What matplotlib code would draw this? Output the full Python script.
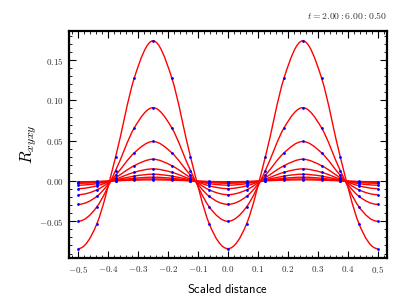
import numpy as np
import matplotlib
matplotlib.use("Agg")
import matplotlib.pyplot as plt
from matplotlib.path import Path
from matplotlib.patches import PathPatch
from matplotlib.ticker import MultipleLocator, FuncFormatter

plt.rcParams["mathtext.fontset"] = "cm"

# grid points (scaled distance) and the sampled R_xyxy values, one row per time
distance = [-0.5, -0.4375, -0.375, -0.3125, -0.25, -0.1875, -0.125, -0.0625, 0.0,
            0.0625, 0.125, 0.1875, 0.25, 0.3125, 0.375, 0.4375, 0.5]
times = [2.0, 2.5, 3.0, 3.5, 4.0, 4.5, 5.0, 5.5, 6.0]
r_xyxy = [
    [-0.084, -0.053, 0.030, 0.128, 0.174, 0.128, 0.030, -0.053, -0.084,
     -0.053, 0.030, 0.128, 0.174, 0.128, 0.030, -0.053, -0.084],
    [-0.050, -0.032, 0.013, 0.066, 0.091, 0.066, 0.013, -0.032, -0.050,
     -0.032, 0.013, 0.066, 0.091, 0.066, 0.013, -0.032, -0.050],
    [-0.029, -0.019, 0.007, 0.035, 0.049, 0.035, 0.007, -0.019, -0.029,
     -0.019, 0.007, 0.035, 0.049, 0.035, 0.007, -0.019, -0.029],
    [-0.017, -0.011, 0.004, 0.019, 0.027, 0.019, 0.004, -0.011, -0.017,
     -0.011, 0.004, 0.019, 0.027, 0.019, 0.004, -0.011, -0.017],
    [-0.0095, -0.0060, 0.0022, 0.0108, 0.0150, 0.0108, 0.0022, -0.0060, -0.0095,
     -0.0060, 0.0022, 0.0108, 0.0150, 0.0108, 0.0022, -0.0060, -0.0095],
    [-0.0052, -0.0033, 0.0012, 0.0061, 0.0084, 0.0061, 0.0012, -0.0033, -0.0052,
     -0.0033, 0.0012, 0.0061, 0.0084, 0.0061, 0.0012, -0.0033, -0.0052],
    [-0.0029, -0.0018, 0.0007, 0.0034, 0.0047, 0.0034, 0.0007, -0.0018, -0.0029,
     -0.0018, 0.0007, 0.0034, 0.0047, 0.0034, 0.0007, -0.0018, -0.0029],
    [-0.0016, -0.0010, 0.0004, 0.0019, 0.0026, 0.0019, 0.0004, -0.0010, -0.0016,
     -0.0010, 0.0004, 0.0019, 0.0026, 0.0019, 0.0004, -0.0010, -0.0016],
    [-0.0009, -0.0006, 0.0002, 0.0010, 0.0014, 0.0010, 0.0002, -0.0006, -0.0009,
     -0.0006, 0.0002, 0.0010, 0.0014, 0.0010, 0.0002, -0.0006, -0.0009],
]


def smooth_path(xs, ys):
    # Catmull-Rom through the samples, drawn as cubic Bezier segments
    xs = np.asarray(xs, float)
    ys = np.asarray(ys, float)
    ext = np.concatenate([[ys[1]], ys, [ys[-2]]])  # mirrored ends -> flat slope
    m = (ext[2:] - ext[:-2]) / 2.0
    verts = [(xs[0], ys[0])]
    codes = [Path.MOVETO]
    for i in range(len(xs) - 1):
        h = xs[i + 1] - xs[i]
        verts += [(xs[i] + h / 3, ys[i] + m[i] / 3),
                  (xs[i + 1] - h / 3, ys[i + 1] - m[i + 1] / 3),
                  (xs[i + 1], ys[i + 1])]
        codes += [Path.CURVE4] * 3
    return Path(verts, codes)


fig = plt.figure(figsize=(4.07, 3.05), dpi=100)
ax = fig.add_axes([0.170, 0.153, 0.780, 0.745])

for row in r_xyxy:
    ax.add_patch(PathPatch(smooth_path(distance, row), fill=False,
                           edgecolor="red", lw=1.0, zorder=2))
    ax.plot(distance, row, "o", color="blue", ms=2.0, mew=0, zorder=3)

ax.set_xlim(-0.53, 0.53)
ax.set_ylim(-0.096, 0.186)

ax.xaxis.set_major_locator(MultipleLocator(0.1))
ax.xaxis.set_minor_locator(MultipleLocator(0.02))
ax.yaxis.set_major_locator(MultipleLocator(0.05))
ax.yaxis.set_minor_locator(MultipleLocator(0.01))
fmt = FuncFormatter(lambda v, p: "$%.1f$" % (0.0 if abs(v) < 1e-9 else v))
ax.xaxis.set_major_formatter(fmt)
ax.yaxis.set_major_formatter(
    FuncFormatter(lambda v, p: "$%.2f$" % (0.0 if abs(v) < 1e-9 else v)))

ax.tick_params(which="both", direction="in", top=True, right=True,
               labelsize=6.5, colors="black", labelcolor="#333333")
ax.tick_params(which="major", length=5, width=0.8, pad=4)
ax.tick_params(which="minor", length=2.5, width=0.6)
for sp in ax.spines.values():
    sp.set_linewidth(1.6)

ax.set_xlabel(r"$\mathsf{Scaled\ distance}$", fontsize=9, labelpad=6)
ax.set_ylabel(r"$R_{xyxy}$", fontsize=12, labelpad=0)
ax.text(1.0, 1.045, r"$t = 2.00 : 6.00 : 0.50$", transform=ax.transAxes,
        ha="right", va="bottom", fontsize=7, color="#333333")

fig.savefig("out.png", dpi=100)
